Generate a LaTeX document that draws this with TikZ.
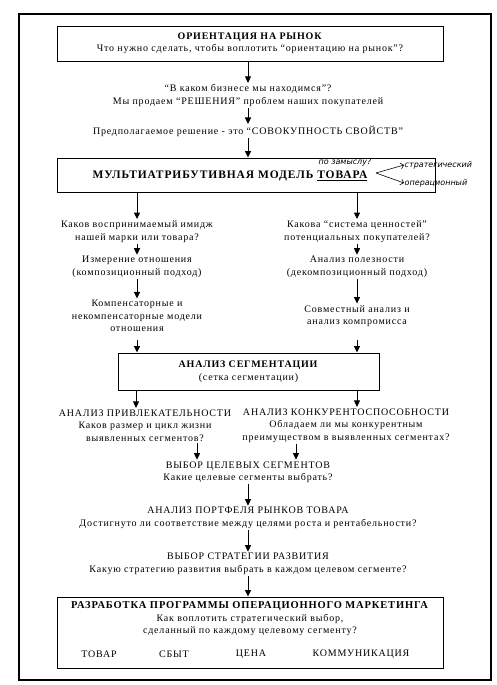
\documentclass[tikz,border=0pt]{standalone}
\usepackage{fontspec}
\setmainfont{Liberation Serif}[LetterSpace=8]
\newfontfamily\handfont{DejaVu Sans}
\usetikzlibrary{arrows.meta}
\newcommand\bigcaps{\fontsize{10}{12.5}\selectfont}
\tikzset{
  frame/.style={draw, line width=0.9pt},
  txt/.style={align=center, inner sep=1.5pt, font=\fontsize{10}{12.5}\selectfont},
  arr/.style={-{Triangle[length=6.5pt,width=6pt]}, line width=1pt},
  hand/.style={inner sep=0.5pt, font=\handfont\itshape\fontsize{8}{9}\selectfont},
}
\begin{document}
\begin{tikzpicture}[x=1pt,y=-1pt]
\useasboundingbox (0,0) rectangle (497,685);
\draw[line width=1.2pt] (19,14) rectangle (491,680);
% top of the chart
\node[frame, minimum width=386pt, minimum height=35pt, txt] (orient) at (250,43.5) {\textbf{ОРИЕНТАЦИЯ НА РЫНОК}\\Что нужно сделать, чтобы воплотить “ориентацию на рынок”?};
\node[txt] (business) at (248,95.5) {“В каком бизнесе мы находимся”?\\Мы продаем “РЕШЕНИЯ” проблем наших покупателей};
\node[txt] (solution) at (248,131) {Предполагаемое решение - это “СОВОКУПНОСТЬ СВОЙСТВ”};
\node[frame, minimum width=378pt, minimum height=34pt] (model) at (246,175) {};
\node[txt] (modeltext) at (230,176) {\fontsize{11.5}{13}\selectfont\textbf{МУЛЬТИАТРИБУТИВНАЯ МОДЕЛЬ \underline{ТОВАРА}}};
\draw[arr] (business.north |- orient.south) -- (business.north);
\draw[arr] (business) -- (solution);
\draw[arr] (solution.south) -- (solution.south |- model.north);
% pencil notes
\node[hand] (note) at (345,162) {по замыслу?};
\coordinate (fork) at (376,173);
\node[hand, anchor=west] (strat) at (404,165) {стратегический};
\node[hand, anchor=west] (oper) at (404,183) {операционный};
\draw[line width=0.6pt, -{Straight Barb[length=3pt]}] (fork) -- (strat.west);
\draw[line width=0.6pt, -{Straight Barb[length=3pt]}] (fork) -- (oper.west);
% two columns
\node[txt] (image) at (137,231.5) {Каков воспринимаемый имидж\\нашей марки или товара?};
\node[txt] (attitude) at (137,267) {Измерение отношения\\(композиционный подход)};
\node[txt] (compens) at (137,316) {Компенсаторные и\\некомпенсаторные модели\\отношения};
\node[txt] (values) at (357,231.5) {Какова “система ценностей”\\потенциальных покупателей?};
\node[txt] (utility) at (357,267) {Анализ полезности\\(декомпозиционный подход)};
\node[txt] (conjoint) at (357,316) {Совместный анализ и\\анализ компромисса};
\draw[arr] (image.north |- model.south) -- (image.north);
\draw[arr] (values.north |- model.south) -- (values.north);
\draw[arr] (image) -- (attitude);
\draw[arr] (values) -- (utility);
\draw[arr] (attitude) -- (compens);
\draw[arr] (utility) -- (conjoint);
\node[frame, minimum width=261pt, minimum height=37pt, txt] (segm) at (248.5,371.5) {\textbf{АНАЛИЗ СЕГМЕНТАЦИИ}\\(сетка сегментации)};
\draw[arr, shorten <=6pt] (compens.south) -- (compens.south |- segm.north);
\draw[arr, shorten <=12pt] (conjoint.south) -- (conjoint.south |- segm.north);
% segments
\node[txt] (attract) at (145,425.5) {{\bigcaps АНАЛИЗ ПРИВЛЕКАТЕЛЬНОСТИ}\\Каков размер и цикл жизни\\выявленных сегментов?};
\node[txt] (compet) at (346,425.5) {{\bigcaps АНАЛИЗ КОНКУРЕНТОСПОСОБНОСТИ}\\Обладаем ли мы конкурентным\\преимуществом в выявленных сегментах?};
\draw[arr] ([xshift=-9pt]attract.north |- segm.south) -- ([xshift=-9pt]attract.north);
\draw[arr] ([xshift=11pt]compet.north |- segm.south) -- ([xshift=11pt]compet.north);
\node[txt] (target) at (248,472) {{\bigcaps ВЫБОР ЦЕЛЕВЫХ СЕГМЕНТОВ}\\Какие целевые сегменты выбрать?};
\draw[arr] ([xshift=52pt]attract.south) -- ([xshift=-51pt]target.north);
\draw[arr] ([xshift=-50pt]compet.south) -- ([xshift=48pt]target.north);
\node[txt] (portfolio) at (248,518) {{\bigcaps АНАЛИЗ ПОРТФЕЛЯ РЫНКОВ ТОВАРА}\\Достигнуто ли соответствие между целями роста и рентабельности?};
\node[txt] (strategy) at (248,564) {{\bigcaps ВЫБОР СТРАТЕГИИ РАЗВИТИЯ}\\Какую стратегию развития выбрать в каждом целевом сегменте?};
\draw[arr] (target) -- (portfolio);
\draw[arr] (portfolio) -- (strategy);
% operational marketing
\node[frame, minimum width=386pt, minimum height=71pt] (program) at (250,632.5) {};
\draw[arr] (strategy.south) -- (strategy.south |- program.north);
\node[txt] (progtext) at (250,619) {{\fontsize{10.5}{12.5}\selectfont\textbf{РАЗРАБОТКА ПРОГРАММЫ ОПЕРАЦИОННОГО МАРКЕТИНГА}}\\Как воплотить стратегический выбор,\\сделанный по каждому целевому сегменту?};
\foreach \x/\t [count=\i] in {99/ТОВАР, 174/СБЫТ, 251/ЦЕНА, 361/КОММУНИКАЦИЯ}
  \node[txt] (mix\i) at (\x,654) {\bigcaps\t};
\end{tikzpicture}
\end{document}
